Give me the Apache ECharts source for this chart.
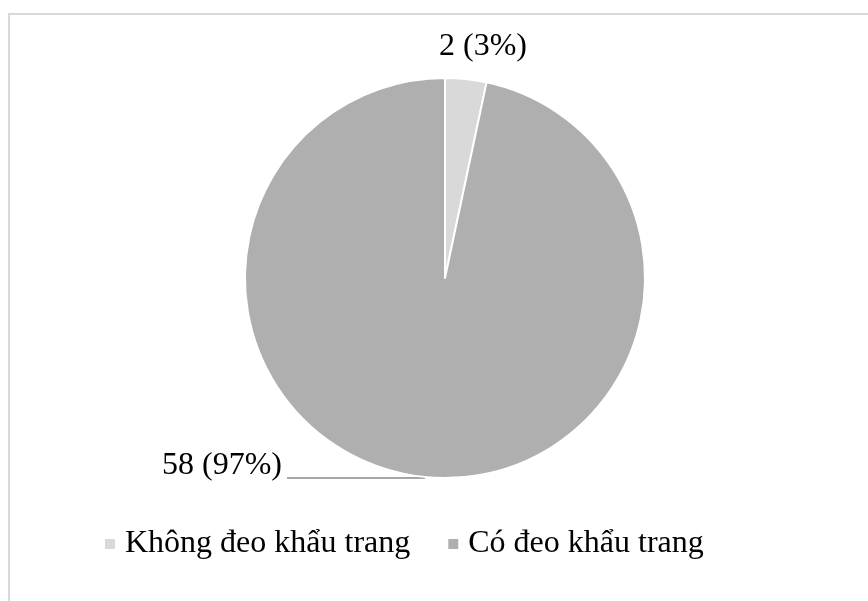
<!DOCTYPE html>
<html>
<head>
<meta charset="utf-8">
<title>Khẩu trang</title>
<script src="https://cdn.jsdelivr.net/npm/echarts@6/dist/echarts.min.js"></script>
<style>
  html, body { margin: 0; padding: 0; background: #ffffff; }
  #chart { width: 868px; height: 601px; }
</style>
</head>
<body>
<div id="chart"></div>
<script>
// Survey answers: wearing a face mask or not
const categories = ['Không đeo khẩu trang', 'Có đeo khẩu trang'];
const counts = [2, 58];
const sliceColors = ['#d9d9d9', '#afafaf'];

const FONT = '"Liberation Serif", "Times New Roman", serif';

const chart = echarts.init(document.getElementById('chart'), null, { renderer: 'canvas' });

const pieData = categories.map((name, i) => ({
  name: name,
  value: counts[i],
  itemStyle: { color: sliceColors[i] },
  labelLine: { show: i !== 0 }
}));

chart.setOption({
  animation: false,
  backgroundColor: '#ffffff',
  graphic: [{
    type: 'rect',
    shape: { x: 9, y: 14, width: 900, height: 700 },
    style: { fill: 'none', stroke: '#d9d9d9', lineWidth: 2 },
    silent: true,
    z: -1
  }],
  legend: {
    data: categories,
    left: 105,
    top: 528,
    padding: 0,
    orient: 'horizontal',
    icon: 'rect',
    itemWidth: 10,
    itemHeight: 10,
    itemGap: 38,
    itemStyle: { borderWidth: 0 },
    textStyle: {
      fontFamily: FONT,
      fontSize: 32,
      color: '#000000',
      lineHeight: 32,
      padding: [0, 0, 0, 5]
    }
  },
  series: [{
    type: 'pie',
    center: [445, 278],
    radius: [0, 200],
    startAngle: 90,
    clockwise: true,
    avoidLabelOverlap: false,
    data: pieData,
    itemStyle: { borderColor: '#ffffff', borderWidth: 2 },
    emphasis: { disabled: true },
    label: {
      show: true,
      position: 'outside',
      fontFamily: FONT,
      fontSize: 32,
      lineHeight: 24,
      color: '#000000',
      // a blank second line lifts the text above the leader line
      formatter: p => p.value + ' (' + Math.round(p.percent) + '%)' + (p.dataIndex === 0 ? '' : '\n ')
    },
    labelLine: {
      show: true,
      length: 1,
      length2: 137,
      lineStyle: { color: '#a6a6a6', width: 2 }
    },
    labelLayout: function (params) {
      if (params.dataIndex === 0) {
        return { x: 483, y: 47, align: 'center', verticalAlign: 'middle' };
      }
    }
  }]
});
</script>
</body>
</html>
